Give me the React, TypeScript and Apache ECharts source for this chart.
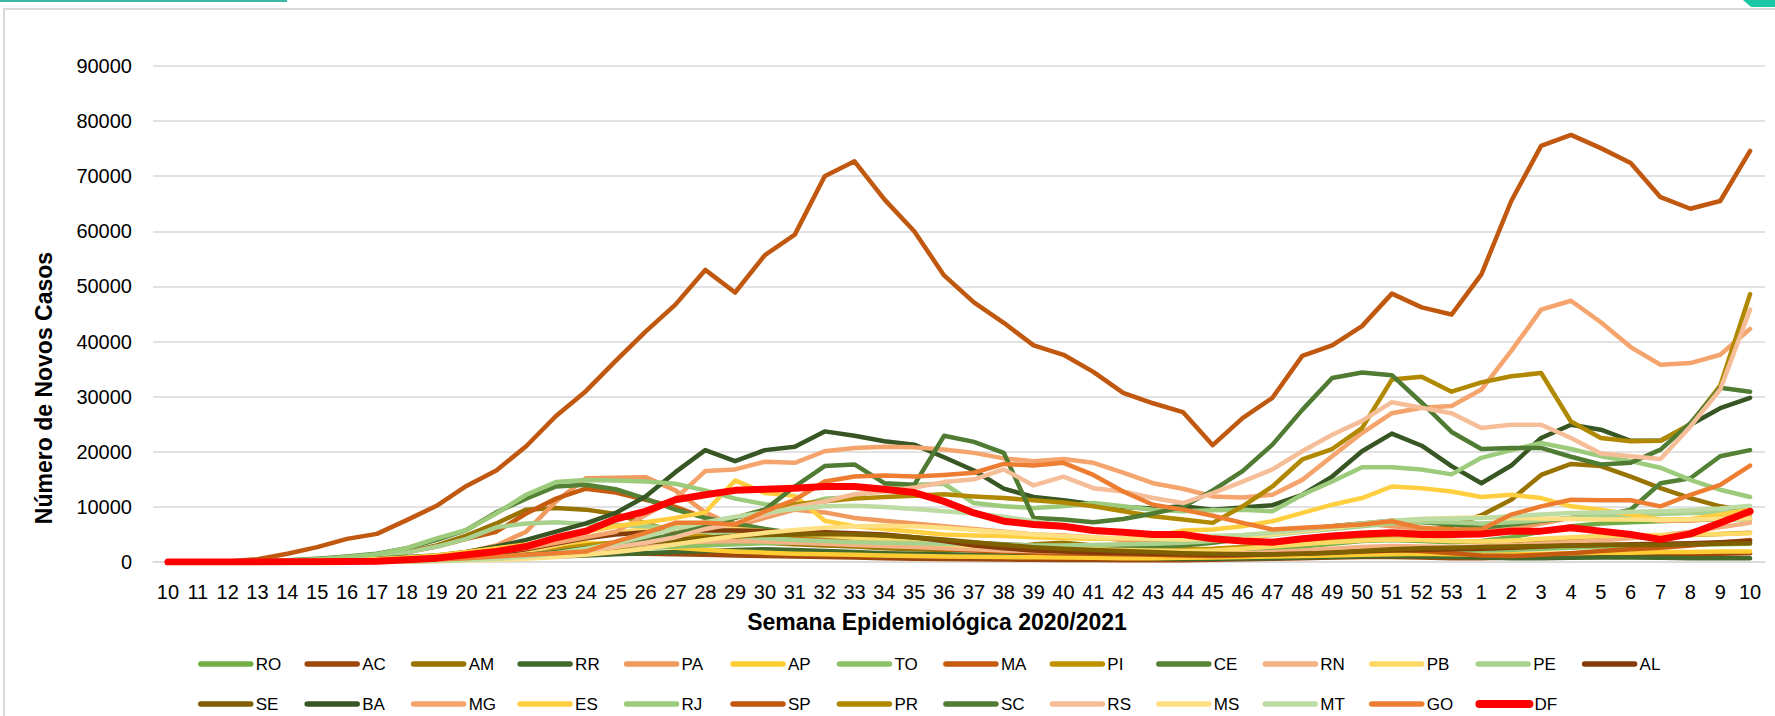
import React, { useEffect, useRef } from "react";
import * as echarts from "echarts";

const weeks = ["10","11","12","13","14","15","16","17","18","19","20","21","22","23","24","25","26","27","28","29","30","31","32","33","34","35","36","37","38","39","40","41","42","43","44","45","46","47","48","49","50","51","52","53","1","2","3","4","5","6","7","8","9","10"];
const yTicks = [0, 10000, 20000, 30000, 40000, 50000, 60000, 70000, 80000, 90000];

const states = ["RO","AC","AM","RR","PA","AP","TO","MA","PI","CE","RN","PB","PE","AL","SE","BA","MG","ES","RJ","SP","PR","SC","RS","MS","MT","GO","DF"];
const colors = ["#70AD47","#9E480E","#997300","#43682B","#F19A5F","#FFCD33","#8CC168","#C55A11","#BF9000","#548235","#F4B183","#FFD966","#A9D18E","#843C0C","#7F6000","#375623","#F4A46C","#FFCF40","#9CCB7C","#C0580F","#B08900","#4F7B32","#F6BE98","#FFE082","#BCDCA4","#ED7D31","#FF0000"];

const RO = [0,0,0,10,30,60,100,150,250,400, 600,900,1300,1700,2200,2700,3000,3400,3800,4000, 4200,4300,4200,4000,3600,3200,2800,2500,2300,2100, 2000,1900,1800,1700,1700,1800,2000,2300,2800,3300, 3800,4000,3800,3600,3800,4500,5500,6500,7000,7200, 7400,7600,7700,7800];
const AC = [0,0,0,10,20,40,60,100,150,250, 400,600,900,1200,1400,1500,1500,1400,1300,1200, 1100,1000,900,800,700,600,550,500,450,400, 380,350,330,320,330,400,500,600,700,800, 900,900,800,700,700,800,900,1000,1100,1200, 1300,1400,1500,1600];
const AM = [0,0,0,10,50,150,400,900,1800,3000, 4800,7000,9500,9800,9500,8700,7000,5500,4500,4000, 3500,3200,3000,2800,2500,2300,2200,2300,2600,3200, 3500,3000,2500,2200,2000,2000,2500,3500,4000,4000, 4500,5000,5500,6500,8500,11300,15800,17800,17400,15500, 13400,11600,10100,9200];
const RR = [0,0,0,0,10,20,40,80,150,250, 400,600,800,1000,1200,1400,1600,1800,2000,2200, 2300,2200,2000,1800,1600,1500,1400,1300,1200,1100, 1000,900,800,700,600,600,650,700,800,900, 1000,1100,1000,900,800,700,700,750,800,800, 750,700,700,700];
const PA = [0,0,0,10,50,100,200,350,600,1000, 1800,3000,5500,11000,15200,15300,15400,13000,9000,6500, 8000,9500,9000,8000,7500,7000,6500,6000,5500,5000, 4800,4500,4000,3800,3500,3800,4500,5200,6000,6500, 7000,6500,6000,5500,5500,6000,7000,8000,8500,8000, 7500,7500,8000,8500];
const AP = [0,0,0,0,10,40,100,250,500,900, 1500,2200,2800,3200,3400,3300,3000,2600,2200,1900, 1700,1500,1400,1300,1200,1100,1000,950,900,850, 800,750,700,700,750,800,900,1000,1100,1200, 1300,1400,1500,1400,1300,1400,1500,1600,1700,1700, 1800,1800,1900,1900];
const TO = [0,0,0,0,10,20,40,80,150,250, 400,600,900,1300,1700,2100,2500,2800,3000,3200, 3400,3500,3500,3300,3000,2800,2600,2400,2200,2000, 1800,1700,1600,1500,1400,1400,1500,1700,1900,2100, 2300,2400,2300,2200,2100,2200,2400,2600,2800,2900, 3000,3100,3200,3300];
const MA = [0,0,0,10,60,200,500,1000,1800,2800, 4200,5500,8800,11500,13300,12600,11300,10000,8000,6500, 5500,4800,4200,3600,3200,2800,2400,2100,1900,1700, 1600,1500,1400,1300,1200,1100,1200,1400,1600,1800, 2000,2200,2000,1600,1200,1100,1300,1600,2000,2300, 2600,3000,3500,4000];
const PI = [0,0,0,0,10,30,60,100,200,400, 700,1100,1600,2300,3000,3600,4200,4600,4800,5000, 5000,4900,4700,4500,4300,4000,3700,3400,3100,2800, 2600,2500,2400,2300,2300,2400,2700,3100,3500,3800, 4000,4200,4000,3800,3700,3800,4000,4200,4300,4400, 4600,4900,5100,5300];
const CE = [0,0,20,100,300,600,1000,1500,2500,4000, 5800,9000,11500,13700,14000,13200,11500,9500,8000,7000, 6000,5200,4800,4500,4200,4000,3800,3500,3200,3000, 2800,2700,2700,2800,3000,3500,4200,5000,5800,6500, 7000,7500,7200,6800,6200,6800,7500,8000,8300,9500, 14300,15200,19200,20300];
const RN = [0,0,0,0,10,30,60,100,200,350, 600,900,1300,1800,2300,2800,3200,3500,3700,3800, 3700,3500,3300,3100,2900,2700,2500,2300,2100,2000, 1900,1800,1700,1600,1500,1500,1600,1800,2100,2400, 2700,2900,2800,2700,2800,3000,3300,3600,3900,4300, 4800,5500,6300,7100];
const PB = [0,0,0,0,10,20,40,80,150,300, 600,1100,1900,3000,4200,5300,6000,6300,6200,6000, 5600,5200,4800,4400,4000,3600,3200,2900,2700,2500, 2400,2300,2200,2100,2000,2100,2400,2800,3200,3600, 3900,4100,4000,3800,3700,3900,4200,4500,4700,4800, 4900,5000,5100,5200];
const PE = [0,0,10,50,150,300,600,1000,1700,2800, 4200,6300,7000,7200,6900,6700,6500,6200,5500,4800, 4300,4000,3800,3600,3500,3400,3300,3200,3100,3000, 3000,3100,3200,3300,3500,3800,4300,4900,5500,6000, 6500,7000,7300,7200,7000,7200,7600,8000,8300,8500, 8700,8900,9000,9200];
const AL = [0,0,0,0,10,30,60,120,250,500, 900,1500,2300,3300,4300,5000,5400,5600,5700,5700, 5600,5500,5400,5200,5000,4500,3800,3000,2500,2100, 1900,1700,1600,1500,1400,1300,1300,1400,1500,1700, 1900,2100,2200,2300,2400,2600,2800,3000,3100,3200, 3300,3400,3600,3800];
const SE = [0,0,0,0,10,20,40,80,150,300, 500,800,1200,1700,2300,2900,3500,4000,4400,4700, 4900,5000,5100,5000,4800,4500,4100,3600,3100,2700, 2400,2200,2000,1800,1600,1500,1400,1400,1500,1700, 2000,2300,2500,2600,2700,2800,2900,3000,3100,3100, 3100,3200,3300,3400];
const BA = [0,10,30,80,150,250,400,600,900,1200, 1800,2800,4000,5500,7000,8900,11900,16300,20300,18300, 20300,20900,23700,22900,21900,21300,19000,16600,13300,11800, 11200,10500,10000,9700,10100,9500,9900,10300,12200,15500, 20100,23300,21100,17400,14300,17500,22500,24900,24000,22000, 22000,24900,27900,29800];
const MG = [0,10,50,150,250,350,450,550,700,900, 1300,1800,2500,3500,4500,5500,8500,11500,16500,16800, 18200,18000,20100,20700,20900,20800,20400,19800,18800,18300, 18700,18000,16200,14300,13300,11900,11700,12200,14900,19200, 23400,27000,28000,28300,31300,38300,45800,47400,43500,39000, 35800,36100,37600,42300];
const ES = [0,0,10,30,80,150,300,500,800,1200, 1800,2500,3200,4200,5500,6500,7200,8000,9000,14800, 12500,12000,7500,6500,6000,5500,5000,4800,4700,4500, 4300,4200,4300,4600,5700,5900,6500,7400,8900,10400, 11600,13700,13400,12800,11800,12200,11600,10100,9500,8600, 7700,7800,8600,9500];
const RJ = [0,0,20,80,250,500,900,1400,2500,4300, 5800,8800,12200,14500,14900,14800,14600,14200,13000,11500, 10500,10000,11500,11800,13500,14000,14200,10700,10100,9800, 10100,10700,10100,9500,9200,9400,9500,9200,12200,14600, 17200,17200,16800,15900,18900,20300,21600,20500,19200,18300, 17100,14900,13100,11800];
const SP = [0,10,80,500,1500,2700,4200,5100,7600,10200, 13800,16600,21000,26500,31000,36500,41800,46700,53000,48900, 55700,59400,70000,72700,65800,60000,52000,47100,43400,39300, 37600,34500,30700,28800,27200,21200,26100,29800,37400,39300, 42800,48700,46200,44900,52200,65500,75500,77500,75100,72400, 66200,64100,65500,74600];
const PR = [0,0,10,30,60,100,150,200,300,400, 500,700,900,1300,1800,2500,3500,5000,6500,8000, 9500,10500,11000,11500,11800,12000,12300,11900,11600,11200, 10800,10100,9200,8300,7700,7100,10100,13700,18600,20500, 24300,33100,33600,30900,32600,33700,34300,25500,22500,21900, 22000,25000,32000,48600];
const SC = [0,0,0,10,30,60,100,150,250,400, 600,900,1300,1800,2500,3200,4000,5000,6500,8000, 9500,13700,17400,17700,14300,14000,22900,21800,19800,8000, 7700,7200,7800,8800,10000,13000,16500,21300,27600,33400, 34400,33900,28900,23600,20500,20700,20700,19100,17700,18000, 20400,25200,31600,30900];
const RS = [0,10,30,60,100,150,180,200,250,350, 500,700,1000,1500,2000,2700,3500,4500,6000,7000, 8500,10000,11000,12300,12800,13500,14500,15000,16800,13900, 15500,13400,12800,11600,10700,12500,14600,16800,20100,23100, 25600,29000,28000,27000,24300,24900,24900,22500,19700,19200, 18700,24600,31300,45800];
const MS = [0,0,0,0,10,20,30,50,80,150, 250,400,600,900,1300,1800,2400,3200,4000,4700, 5300,5800,6200,6500,6600,6500,6200,5800,5400,5000, 4700,4500,4300,4200,4100,4200,4500,5000,5600,6200, 6800,7400,7800,8000,8100,8000,7900,7800,7700,7700, 7600,7700,7800,7900];
const MT = [0,0,0,0,10,20,40,70,120,200, 350,600,1000,1600,2400,3400,4600,6000,7200,8200, 9000,9600,10100,10200,10000,9600,9200,8800,8200,7400, 6600,6000,5500,5000,4800,4700,4900,5300,5800,6400, 7000,7500,7800,7900,8000,8300,8600,8900,9000,9100, 9200,9400,9700,10200];
const GO = [0,0,0,10,30,60,100,180,300,450, 700,1000,1300,1600,1900,3700,5300,7100,7100,6800, 9200,11300,14600,15500,15700,15500,15800,16200,17800,17500, 18000,15800,12800,10400,9500,8400,7100,5900,6200,6500, 6800,7400,6200,5900,5900,8600,10100,11300,11200,11200, 10100,12200,14000,17500];
const DF = [0,0,0,10,30,60,100,150,400,700, 1300,1900,2800,4400,5600,7800,9200,11300,12200,13000, 13200,13400,13700,13700,13200,12600,11000,8900,7400,6800, 6500,5700,5400,5000,5000,4200,3800,3600,4200,4700, 5100,5300,5000,5000,5100,5600,5600,6200,5600,5000, 4100,5100,7100,9200];

const seriesValues = [RO, AC, AM, RR, PA, AP, TO, MA, PI, CE, RN, PB, PE, AL, SE, BA, MG, ES, RJ, SP, PR, SC, RS, MS, MT, GO, DF];

const legendRow1 = states.slice(0, 14);
const legendRow2 = states.slice(14);

const FONT = "'Liberation Sans', Arial, sans-serif";

export default function App() {
  const ref = useRef<HTMLDivElement>(null);
  useEffect(() => {
    if (!ref.current) return;
    const chart = echarts.init(ref.current, undefined, { renderer: "svg" });
    const catData = weeks.map((w, i) => (i < 44 ? "2020-" : "2021-") + w);
    const legendBase = {
      orient: "horizontal" as const,
      left: 193,
      itemWidth: 50,
      itemHeight: 14,
      itemGap: 18.7,
      selectedMode: false,
      itemStyle: { opacity: 0 },
      lineStyle: { width: 5.5, cap: "round" as const },
      textStyle: { fontSize: 17, fontFamily: FONT, color: "#000", width: 30, lineHeight: 20 },
    };
    const mkLegendData = (names: string[]) =>
      names.map((n) =>
        n === "DF"
          ? { name: n, itemStyle: { opacity: 0 }, lineStyle: { width: 8, cap: "round" } }
          : { name: n, itemStyle: { opacity: 0 } }
      );
    chart.setOption({
      animation: false,
      backgroundColor: "#fff",
      textStyle: { fontFamily: FONT },
      grid: { left: 153, right: 10, top: 66, bottom: 154, containLabel: false },
      legend: [
        { ...legendBase, top: 649, data: mkLegendData(legendRow1) },
        { ...legendBase, top: 689, data: mkLegendData(legendRow2) },
      ],
      xAxis: {
        type: "category",
        data: catData,
        boundaryGap: true,
        axisLine: { show: true, lineStyle: { color: "#d9d9d9", width: 1.5 } },
        axisTick: { show: false },
        axisLabel: {
          interval: 0,
          margin: 20,
          fontSize: 20,
          fontFamily: FONT,
          color: "#000",
          formatter: (v: string) => v.slice(5),
        },
        splitLine: { show: false },
      },
      yAxis: {
        type: "value",
        min: yTicks[0],
        max: yTicks[yTicks.length - 1],
        interval: 10000,
        axisLine: { show: false },
        axisTick: { show: false },
        axisLabel: {
          margin: 21,
          fontSize: 20,
          fontFamily: FONT,
          color: "#000",
          formatter: (v: number) => String(v),
        },
        splitLine: { show: true, lineStyle: { color: "#d9d9d9", width: 1.5 } },
      },
      graphic: [
        {
          type: "rect",
          shape: { x: 4, y: 9, width: 1800, height: 740 },
          style: { fill: "none", stroke: "#d9d9d9", lineWidth: 2 },
          silent: true,
        },
        {
          type: "rect",
          shape: { x: 0, y: 0, width: 287, height: 2 },
          style: { fill: "#3cb8a6" },
          silent: true,
        },
        {
          type: "polygon",
          shape: { points: [[1743, 0], [1775, 0], [1775, 7], [1751, 7]] },
          style: { fill: "#1ac6a4" },
          silent: true,
        },
        {
          type: "text",
          x: 44,
          y: 388,
          rotation: Math.PI / 2,
          style: {
            text: "Número de Novos Casos",
            fontSize: 23,
            fontWeight: "bold",
            fontFamily: FONT,
            fill: "#000",
            align: "center",
            verticalAlign: "middle",
          },
        },
        {
          type: "text",
          x: 937,
          y: 622,
          style: {
            text: "Semana Epidemiológica 2020/2021",
            fontSize: 23,
            fontWeight: "bold",
            fontFamily: FONT,
            fill: "#000",
            align: "center",
            verticalAlign: "middle",
          },
        },
      ],
      series: states.map((name, i) => ({
        name,
        type: "line",
        data: seriesValues[i],
        symbol: "none",
        smooth: false,
        color: colors[i],
        lineStyle: { color: colors[i], width: name === "DF" ? 7 : 4.5, cap: "round", join: "round" },
        emphasis: { disabled: true },
      })),
    });
    return () => chart.dispose();
  }, []);
  return (
    <div
      ref={ref}
      style={{ position: "fixed", left: 0, top: 0, width: 1775, height: 716, background: "#fff" }}
    />
  );
}
